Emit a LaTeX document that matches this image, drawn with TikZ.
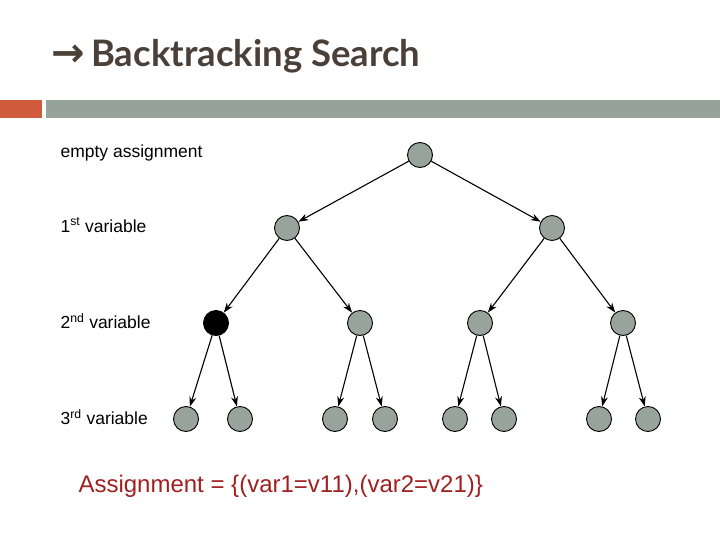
\documentclass[tikz,border=0pt]{standalone}
\usepackage{fontspec}
\setmainfont{Liberation Sans}
\newfontfamily\titlefont{Lato}
\newfontfamily\symfont{DejaVu Sans}
\usetikzlibrary{arrows.meta}
\definecolor{nodegray}{HTML}{98A39C}
\definecolor{bargray}{HTML}{95A39A}
\definecolor{barred}{HTML}{D05A3C}
\definecolor{titlebrown}{HTML}{4A4038}
\definecolor{assignred}{HTML}{A02020}
\tikzset{
  state/.style={circle, draw, line width=0.9pt, fill=nodegray, minimum size=25pt, inner sep=0pt},
  branch/.style={-{Stealth[length=10pt,width=7pt]}, line width=1.1pt},
  level/.style={anchor=west, font=\fontsize{17.5}{20}\selectfont},
}
\begin{document}
\begin{tikzpicture}[x=1pt,y=-1pt]
  \useasboundingbox (0,0) rectangle (720,540);
  % title and bars
  \node[anchor=west, text=titlebrown, font=\fontsize{36.5}{40}\selectfont] (title) at (48,56)
    {{\symfont\bfseries\fontsize{40}{40}\selectfont →}\,{\titlefont\bfseries Backtracking Search}};
  \fill[barred] (0,100) rectangle (42,118);
  \fill[bargray] (46,100) rectangle (720,118);

  % level labels
  \node[level] (l0) at (57,153) {empty assignment};
  \node[level] (l1) at (57,225) {1\textsuperscript{st} variable};
  \node[level] (l2) at (57,321) {2\textsuperscript{nd} variable};
  \node[level] (l3) at (57,417) {3\textsuperscript{rd} variable};

  % tree
  \node[state] (r) at (420,155) {};
  \node[state] (a) at (287,228) {};
  \node[state] (b) at (552,228) {};
  \node[state, fill=black] (aa) at (216,323) {};
  \node[state] (ab) at (360,323) {};
  \node[state] (ba) at (480,323) {};
  \node[state] (bb) at (623,323) {};
  \foreach \p/\x/\y in {aa/186/240, ab/335/385, ba/455/504, bb/599/648} {
    \node[state] (\p1) at (\x,419) {};
    \node[state] (\p2) at (\y,419) {};
    \draw[branch] (\p) -- (\p1);
    \draw[branch] (\p) -- (\p2);
  }
  \draw[branch] (r) -- (a);
  \draw[branch] (r) -- (b);
  \draw[branch] (a) -- (aa);
  \draw[branch] (a) -- (ab);
  \draw[branch] (b) -- (ba);
  \draw[branch] (b) -- (bb);

  \node[anchor=west, text=assignred, font=\fontsize{24}{28}\selectfont] (assign) at (75,486)
    {Assignment = \{(var1=v11),(var2=v21)\}};
\end{tikzpicture}
\end{document}
